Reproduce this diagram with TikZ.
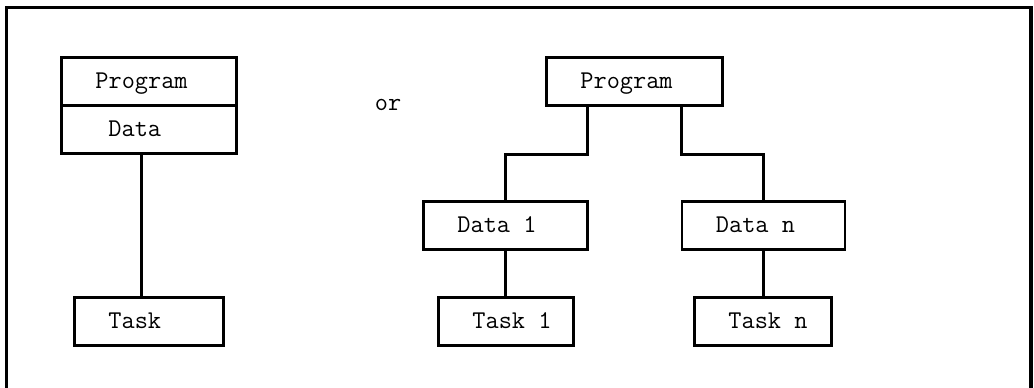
\documentclass[tikz,border=0pt]{standalone}
\usepackage{fontspec}
\usetikzlibrary{calc}

\tikzset{
  box/.style={draw, line width=2pt, minimum height=1.2cm, inner sep=0pt,
    text width=#1, align=left, text height=.365cm, text depth=0pt,
    execute at begin node={\spaceskip=0pt\xspaceskip=0pt\hspace*{.85cm}}},
  wire/.style={line width=2pt}
}

\begin{document}
\begin{tikzpicture}[font=\ttfamily\fontsize{18.2}{21}\selectfont]
  \clip (0, 0) rectangle (25.85, 9.7);
  \draw[line width=2.2pt] (0.1625, -0.5) -- (0.1625, 9.5125)
    -- (25.775, 9.5125) -- (25.775, -0.5);

  \node[box=4.375cm, anchor=north west] (lprog) at (1.5, 8.3) {Program};
  \node[box=4.375cm, anchor=north west,
    execute at begin node={\hspace*{.325cm}}] (ldata) at (1.5, 7.1) {Data};
  \node[box=3.725cm, anchor=north west] (task) at (1.825, 2.3) {Task};

  \node[anchor=base] (or) at (9.7, 6.925) {or};

  \node[box=4.4cm, anchor=north west] (prog) at (13.625, 8.3) {Program};
  \node[box=4.1cm, anchor=north west] (data1) at (10.55, 4.7) {Data 1};
  \node[box=4.075cm, anchor=north west] (datan) at (17.0125, 4.7) {Data n};
  \node[box=3.375cm, anchor=north west] (task1) at (10.925, 2.3) {Task 1};
  \node[box=3.425cm, anchor=north west] (taskn) at (17.325, 2.3) {Task n};

  \begin{scope}[wire]
  \draw ([xshift=-1.875mm]ldata.south) -- ([xshift=-1.875mm]ldata.south |- task.north);
  \draw ([xshift=-1.175cm]prog.south) -- ++(0, -1.2) -| (data1.north);
  \draw ([xshift=1.175cm]prog.south) -- ++(0, -1.2) -| (datan.north);
  \draw (data1.south) -- (data1.south |- task1.north);
  \draw (datan.south) -- (datan.south |- taskn.north);
  \end{scope}
\end{tikzpicture}
\end{document}
